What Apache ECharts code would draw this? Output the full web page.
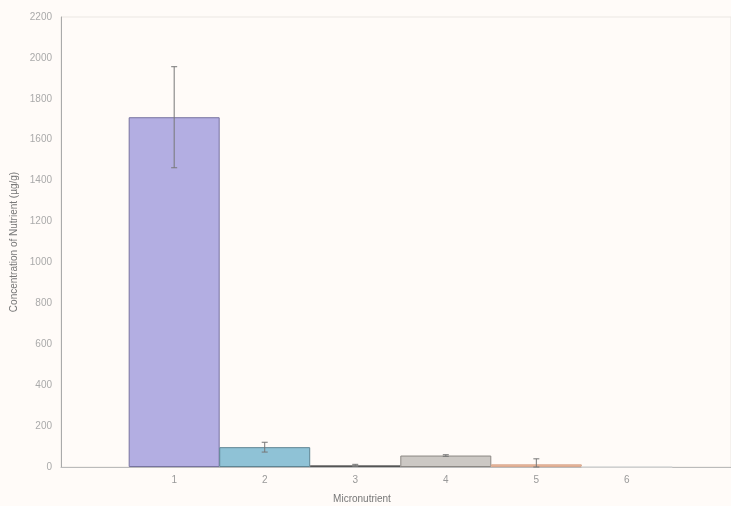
<!DOCTYPE html>
<html>
<head>
<meta charset="utf-8">
<script src="https://cdn.jsdelivr.net/npm/echarts@6/dist/echarts.min.js"></script>
<style>html,body{margin:0;padding:0;background:#fffbf8;}#c{width:731px;height:506px;}</style>
</head>
<body>
<div id="c"></div>
<script>
const categories = [1, 2, 3, 4, 5, 6];
const values = [1710, 97, 8, 56, 13, 1];
const errors = [247, 24, 5, 4, 27, 0];
const yTicks = [0, 200, 400, 600, 800, 1000, 1200, 1400, 1600, 1800, 2000, 2200];
const barColors = ['#b3aee2', '#8fc2d6', '#8a8a8a', '#ccc8c4', '#ebb898', '#f4efea'];
const barBorders = ['#77739f', '#5e8594', '#555555', '#8c8884', '#d8a890', '#dddddd'];

const chart = echarts.init(document.getElementById('c'));
chart.setOption({
  backgroundColor: '#fffbf8',
  animation: false,
  grid: { left: 61, right: 0, top: 17, bottom: 39, containLabel: false, outerBoundsMode: 'none',
    show: true, borderColor: '#ebe7e3', borderWidth: 1, backgroundColor: 'transparent' },
  xAxis: {
    type: 'value', min: -0.25, max: 7.15,
    name: 'Micronutrient', nameLocation: 'middle', nameGap: 27,
    nameTextStyle: { color: '#777', fontSize: 10, fontFamily: 'Liberation Sans', padding: [0, 68, 0, 0] },
    axisLine: { show: true, onZero: false, lineStyle: { color: '#bbb' } },
    axisTick: { show: false },
    splitLine: { show: false },
    axisLabel: { customValues: categories, color: '#999', fontSize: 10, fontFamily: 'Liberation Sans', margin: 8 }
  },
  yAxis: {
    type: 'value', min: 0, max: 2200, interval: 200,
    name: 'Concentration of Nutrient (µg/g)', nameLocation: 'middle', nameGap: 41,
    nameTextStyle: { color: '#777', fontSize: 10, fontFamily: 'Liberation Sans' },
    axisLine: { show: true, onZero: false, lineStyle: { color: '#aaa' } },
    axisTick: { show: false },
    splitLine: { show: false },
    axisLabel: { color: '#aaa', fontSize: 10, fontFamily: 'Liberation Sans', margin: 9,
      formatter: v => yTicks.includes(v) ? String(v) : '' }
  },
  series: [
    {
      type: 'bar', barWidth: 91,
      data: categories.map((c, i) => ({
        value: [c, values[i]],
        itemStyle: { color: barColors[i], borderColor: barBorders[i], borderWidth: 1 }
      }))
    },
    {
      type: 'custom', z: 10,
      data: categories.map((c, i) => [c, values[i], errors[i]]),
      renderItem: function (params, api) {
        const x = api.value(0), v = api.value(1), e = api.value(2);
        if (!e) return null;
        const top = api.coord([x, v + e]);
        const bot = api.coord([x, Math.max(0, v - e)]);
        const hw = 3;
        const st = { stroke: '#777', lineWidth: 1 };
        return { type: 'group', children: [
          { type: 'line', shape: { x1: top[0], y1: top[1], x2: bot[0], y2: bot[1] }, style: st },
          { type: 'line', shape: { x1: top[0] - hw, y1: top[1], x2: top[0] + hw, y2: top[1] }, style: st },
          { type: 'line', shape: { x1: bot[0] - hw, y1: bot[1], x2: bot[0] + hw, y2: bot[1] }, style: st }
        ]};
      }
    }
  ]
});
</script>
</body>
</html>
